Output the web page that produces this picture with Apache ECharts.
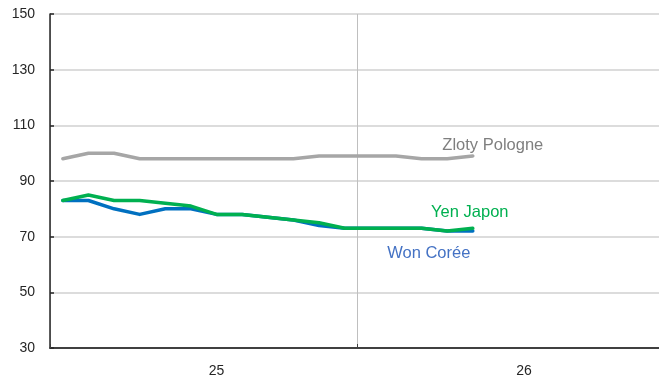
<!DOCTYPE html>
<html>
<head>
<meta charset="utf-8">
<script src="https://cdn.jsdelivr.net/npm/echarts@6/dist/echarts.min.js"></script>
<style>
  html, body { margin: 0; padding: 0; background: #fff; overflow: hidden; }
  /* the second year runs a little past the right edge of the window */
  #chart { width: 665px; height: 381px; }
</style>
</head>
<body>
<div id="chart"></div>
<script>
// Monthly index values, two years of months on the category axis
const months = [
  '2025-01','2025-02','2025-03','2025-04','2025-05','2025-06',
  '2025-07','2025-08','2025-09','2025-10','2025-11','2025-12',
  '2026-01','2026-02','2026-03','2026-04','2026-05','2026-06',
  '2026-07','2026-08','2026-09','2026-10','2026-11','2026-12'
];
// Year labels, shown under the middle month of each year
const yearLabels = { 6: '25', 18: '26' };

const zloty = [98, 100, 100, 98, 98, 98, 98, 98, 98, 98, 99, 99, 99, 99, 98, 98, 99];
const yen   = [83, 85, 83, 83, 82, 81, 78, 78, 77, 76, 75, 73, 73, 73, 73, 72, 73];
const won   = [83, 83, 80, 78, 80, 80, 78, 78, 77, 76, 74, 73, 73, 73, 73, 72, 72];

const yMin = 30, yMax = 150, yStep = 20;

const font = '"Liberation Sans", Arial, sans-serif';

function lineSeries(name, data, color, labelColor, offset) {
  return {
    name: name,
    type: 'line',
    data: data,
    showSymbol: false,
    symbol: 'none',
    smooth: false,
    lineStyle: { color: color, width: 3.5, cap: 'round', join: 'round' },
    itemStyle: { color: color },
    endLabel: {
      show: true,
      formatter: name,
      color: labelColor,
      fontFamily: font,
      fontSize: 16.5,
      distance: 0,
      align: 'center',
      verticalAlign: 'middle',
      offset: offset
    },
    emphasis: { disabled: true },
    animation: false
  };
}

const chart = echarts.init(document.getElementById('chart'), null, { renderer: 'canvas' });
chart.setOption({
  animation: false,
  backgroundColor: '#ffffff',
  grid: { left: 50, top: 14, bottom: 33, right: 0, containLabel: false },
  xAxis: {
    type: 'category',
    data: months,
    boundaryGap: true,
    axisLine: { show: true, lineStyle: { color: '#404040', width: 2 } },
    axisTick: {
      show: true,
      inside: true,
      interval: (i) => i % 12 === 0,
      length: 4,
      lineStyle: { color: '#404040', width: 1 }
    },
    axisLabel: {
      interval: (i) => yearLabels[i] !== undefined,
      formatter: (v, i) => yearLabels[i] || '',
      color: '#262626',
      fontFamily: font,
      fontSize: 14,
      margin: 16
    },
    splitLine: {
      show: true,
      interval: (i) => i % 12 === 0,
      lineStyle: { color: '#bfbfbf', width: 1 }
    }
  },
  yAxis: {
    type: 'value',
    min: yMin,
    max: yMax,
    interval: yStep,
    axisLine: { show: true, lineStyle: { color: '#262626', width: 1.5 } },
    axisTick: { show: true, inside: true, length: 4, lineStyle: { color: '#262626', width: 1.5 } },
    axisLabel: {
      color: '#262626',
      fontFamily: font,
      fontSize: 14,
      margin: 15
    },
    splitLine: { show: true, lineStyle: { color: '#d0d0d0', width: 1.5 } }
  },
  series: [
    lineSeries('Zloty Pologne', zloty, '#a6a6a6', '#7f7f7f', [20, -10]),
    lineSeries('Won Corée', won, '#0070c0', '#4472c4', [-44, 22.5]),
    lineSeries('Yen Japon', yen, '#00b050', '#00b050', [-3, -15.5])
  ]
});
</script>
</body>
</html>
